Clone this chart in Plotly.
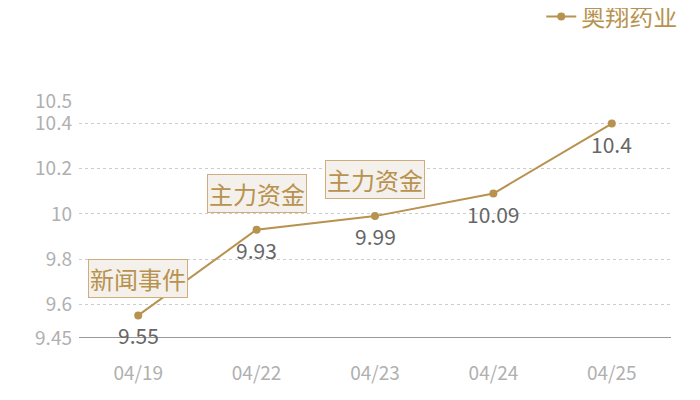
import plotly.graph_objects as go

dates = ["04/19", "04/22", "04/23", "04/24", "04/25"]
prices = [9.55, 9.93, 9.99, 10.09, 10.4]
y_ticks = [9.45, 9.6, 9.8, 10, 10.2, 10.4, 10.5]
events = [("04/19", 9.55, "新闻事件"), ("04/22", 9.93, "主力资金"), ("04/23", 9.99, "主力资金")]

gold = "#b8924f"
font = "Noto Sans CJK SC"

fig = go.Figure()
fig.add_trace(go.Scatter(
    x=dates, y=prices, name="奥翔药业", mode="lines+markers",
    line=dict(color=gold, width=2), marker=dict(color=gold, size=8),
))

# value labels under each point
for d, v in zip(dates, prices):
    fig.add_annotation(x=d, y=v, text=str(v), showarrow=False, yanchor="top", yshift=-3,
                       font=dict(color="#666666", size=21, family=font))

# event tags sitting above the points
for d, v, label in events:
    fig.add_annotation(
        x=d, y=v, text=label, showarrow=False, yanchor="bottom", yshift=17,
        font=dict(color=gold, size=24, family=font),
        bgcolor="#f4f0eb", bordercolor="#cfae7c", borderwidth=1, borderpad=1,
    )

fig.update_layout(
    width=700, height=400, plot_bgcolor="white", paper_bgcolor="white",
    margin=dict(l=71, r=37, t=93, b=70, autoexpand=False),
    font=dict(family=font),
    showlegend=True,
    legend=dict(x=1.019, y=1.355, xanchor="right", yanchor="middle",
                font=dict(color=gold, size=24, family=font), bgcolor="rgba(0,0,0,0)"),
    xaxis=dict(type="category", range=[-0.5, 4.5], showgrid=False, showline=False,
               ticks="", automargin=False, ticklabelstandoff=22,
               tickfont=dict(color="#b0b0b0", size=19, family=font)),
    yaxis=dict(range=[9.45, 10.5], tickvals=y_ticks, ticktext=[str(t) for t in y_ticks],
               showgrid=True, gridcolor="#cccccc", griddash="dot", gridwidth=1,
               zeroline=False, showline=False, ticks="", automargin=False, ticklabelstandoff=6,
               tickfont=dict(color="#b0b0b0", size=19, family=font)),
)
fig.add_hline(y=9.45, line=dict(color="#333333", width=1))

fig.write_html("out.html")
